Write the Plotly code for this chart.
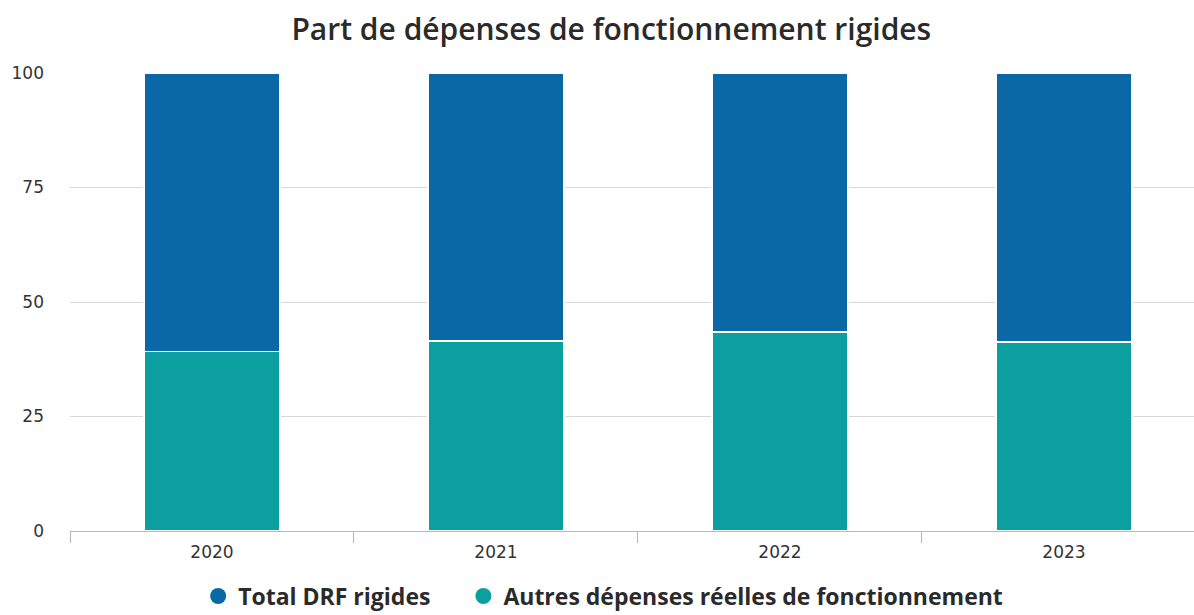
import plotly.graph_objects as go

# Share of operating expenses (%), by year
years = ["2020", "2021", "2022", "2023"]
autres_depenses = [39.2, 41.5, 43.4, 41.3]
drf_rigides = [60.8, 58.5, 56.6, 58.7]

y_ticks = [0, 25, 50, 75, 100]

COL_RIGIDES = "#0a68a6"
COL_AUTRES = "#0c9fa0"

fig = go.Figure()

# Stacked bars: other expenses at the bottom, rigid expenses on top
fig.add_trace(go.Bar(
    x=years, y=autres_depenses, name="Autres dépenses réelles de fonctionnement",
    marker=dict(color=COL_AUTRES, line=dict(color="white", width=1.5)),
    showlegend=False,
))
fig.add_trace(go.Bar(
    x=years, y=drf_rigides, name="Total DRF rigides",
    marker=dict(color=COL_RIGIDES, line=dict(color="white", width=1.5)),
    showlegend=False,
))

# Legend entries with round markers, each in its own legend box
for name, col, leg in [("Total DRF rigides", COL_RIGIDES, "legend"),
                       ("Autres dépenses réelles de fonctionnement", COL_AUTRES, "legend2")]:
    fig.add_trace(go.Scatter(
        x=[None], y=[None], mode="markers", name=name, legend=leg,
        marker=dict(color=col, size=20, symbol="circle"),
    ))

legend_font = dict(family="Open Sans", size=23, color="#2a2a2a", weight=700)
legend_common = dict(
    orientation="h", xanchor="left", y=-0.142, yanchor="middle",
    font=legend_font, itemsizing="trace", bgcolor="rgba(0,0,0,0)",
)

fig.update_layout(
    width=1194, height=615,
    barmode="stack", bargap=0.52,
    paper_bgcolor="white", plot_bgcolor="white",
    margin=dict(l=70, r=0, t=73, b=84, autoexpand=False),
    title=dict(
        text="Part de dépenses de fonctionnement rigides",
        x=0.512, xanchor="center", y=0.952, yanchor="middle",
        font=dict(family="Open Sans", size=30, color="#2a2a2a", weight=600),
    ),
    legend=dict(x=0.114, **legend_common),
    legend2=dict(x=0.35, **legend_common),
    font=dict(family="DejaVu Sans", size=17, color="#333333"),
)

fig.update_xaxes(
    type="category", range=[-0.5, 3.458],
    showgrid=False, showline=True, linecolor="#a9bdd0", linewidth=1,
    tickson="boundaries", ticks="outside", ticklen=11, tickcolor="#b0b8c4",
    ticklabelstandoff=6,
    tickfont=dict(family="DejaVu Sans", size=17, color="#333333"),
)
fig.update_yaxes(
    range=[0, 100], tickvals=y_ticks,
    showgrid=True, gridcolor="#d9d9d9", gridwidth=1,
    zeroline=False, showline=False,
    ticklabelstandoff=25,
    tickfont=dict(family="DejaVu Sans", size=17, color="#333333"),
)

fig.write_html("out.html")
